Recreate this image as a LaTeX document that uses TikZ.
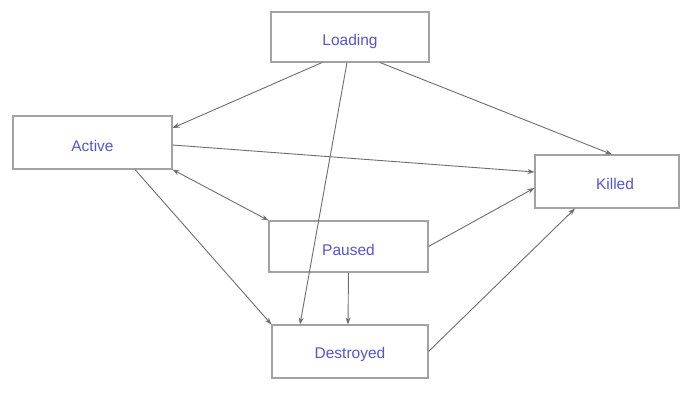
\documentclass[tikz,border=0pt]{standalone}
\usepackage{fontspec}
\setmainfont{Liberation Sans}
\usetikzlibrary{calc,arrows.meta}
\definecolor{boxline}{HTML}{A2A2A2}
\definecolor{edgeline}{HTML}{6E6E6E}
\definecolor{statetext}{HTML}{5555D2}
\begin{document}
\begin{tikzpicture}[x=1pt,y=-1pt,
  statebox/.style={draw=boxline,line width=1.1pt,fill=white,inner sep=0pt},
  statelabel/.style={text=statetext,font=\fontsize{15.5}{18}\selectfont},
  flow/.style={draw=edgeline,line width=0.9pt,-{Stealth[length=7pt,width=5pt]}},
  flowboth/.style={draw=edgeline,line width=0.9pt,{Stealth[length=7pt,width=5pt]}-{Stealth[length=7pt,width=5pt]}}]
\useasboundingbox[fill=white] (0,0) rectangle (681,395);

% states
\node[statebox,minimum width=158pt,minimum height=50pt,
  label={[statelabel,yshift=-4pt]center:Loading}] (loading) at (350,37) {};
\node[statebox,minimum width=159pt,minimum height=53pt,
  label={[statelabel,yshift=-3pt]center:Active}] (active) at (92.5,142.5) {};
\node[statebox,minimum width=144pt,minimum height=53pt,
  label={[statelabel,xshift=8pt,yshift=-2pt]center:Killed}] (killed) at (607,181.5) {};
\node[statebox,minimum width=159pt,minimum height=51pt,
  label={[statelabel,yshift=-3pt]center:Paused}] (paused) at (348.5,246.5) {};
\node[statebox,minimum width=156pt,minimum height=53pt,
  label={[statelabel,yshift=-3pt]center:Destroyed}] (destroyed) at (350,351.5) {};

% transitions
\draw[flow] ($(loading.south)+(-28,0)$) -- ($(active.east)+(0,-14.5)$);
\draw[flow] ($(loading.south)+(-3,0)$) -- ($(destroyed.north)+(-50,0)$);
\draw[flow] ($(loading.south)+(30,0)$) -- ($(killed.north)+(5,0)$);
\draw[flow] ($(active.east)+(0,2.5)$) -- ($(killed.west)+(0,-9.5)$);
\draw[flowboth] (active.south east) -- (paused.north west);
\draw[flow] ($(active.south)+(42.5,0)$) -- (destroyed.north west);
\draw[flow] (paused.east) -- ($(killed.west)+(0,6.5)$);
\draw[flow] (paused.south) -- ($(destroyed.north)+(-2,0)$);
\draw[flow] (destroyed.east) -- ($(killed.south)+(-32,0)$);
\end{tikzpicture}
\end{document}
